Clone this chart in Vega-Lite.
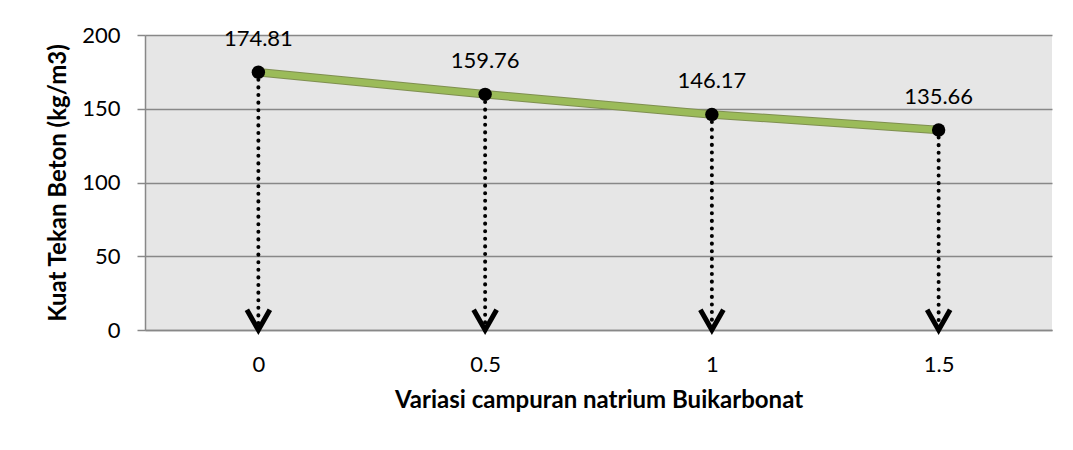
{
  "$schema": "https://vega.github.io/schema/vega-lite/v6.json",
  "width": 907,
  "height": 295,
  "autosize": "none",
  "padding": {"left": 145, "top": 35, "right": 21, "bottom": 120},
  "background": "white",
  "config": {
    "view": {"fill": "#e6e6e6", "stroke": null},
    "font": "Lato",
    "axis": {"labelFont": "Lato", "titleFont": "Lato", "labelColor": "#000000", "titleColor": "#000000"}
  },
  "data": {
    "values": [
      {"x": "0", "y": 174.81, "label": "174.81", "base": 0},
      {"x": "0.5", "y": 159.76, "label": "159.76", "base": 0},
      {"x": "1", "y": 146.17, "label": "146.17", "base": 0},
      {"x": "1.5", "y": 135.66, "label": "135.66", "base": 0}
    ]
  },
  "encoding": {
    "x": {
      "field": "x", "type": "ordinal", "sort": null,
      "scale": {"type": "point", "padding": 0.5},
      "axis": {
        "title": "Variasi campuran natrium Buikarbonat",
        "titleFontSize": 24, "titleFontWeight": "bold", "titlePadding": 13,
        "labelFontSize": 22, "labelAngle": 0, "labelPadding": 24,
        "ticks": false, "domainColor": "#888888", "domainWidth": 1.5, "grid": false
      }
    },
    "y": {
      "field": "y", "type": "quantitative",
      "scale": {"domain": [0, 200], "nice": false},
      "axis": {
        "title": "Kuat Tekan Beton (kg/m3)",
        "titleFontSize": 24, "titleFontWeight": "bold", "titlePadding": 11,
        "labelFontSize": 22, "labelPadding": 17, "values": [0, 50, 100, 150, 200],
        "tickSize": 8, "tickColor": "#888888", "tickWidth": 1.5,
        "domainColor": "#888888", "domainWidth": 1.5,
        "grid": true, "gridColor": "#888888", "gridWidth": 1.5
      }
    }
  },
  "layer": [
    {
      "mark": {"type": "rule", "color": "#000000", "strokeWidth": 4, "strokeDash": [0.1, 7.5], "strokeCap": "round"},
      "encoding": {"y2": {"field": "base"}}
    },
    {
      "mark": {"type": "point", "shape": "M-1,-1.75L0,0L1,-1.75", "filled": false, "stroke": "#000000", "strokeWidth": 5, "size": 530, "opacity": 1},
      "encoding": {"y": {"field": "base", "type": "quantitative"}}
    },
    {
      "mark": {"type": "line", "color": "#7f8f50", "strokeWidth": 8.5}
    },
    {
      "mark": {"type": "line", "color": "#9bbb59", "strokeWidth": 6.5}
    },
    {
      "mark": {"type": "circle", "color": "#000000", "size": 180, "opacity": 1}
    },
    {
      "mark": {"type": "text", "fontSize": 22, "font": "Lato", "color": "#000000", "dy": -33},
      "encoding": {"text": {"field": "label"}}
    }
  ]
}
